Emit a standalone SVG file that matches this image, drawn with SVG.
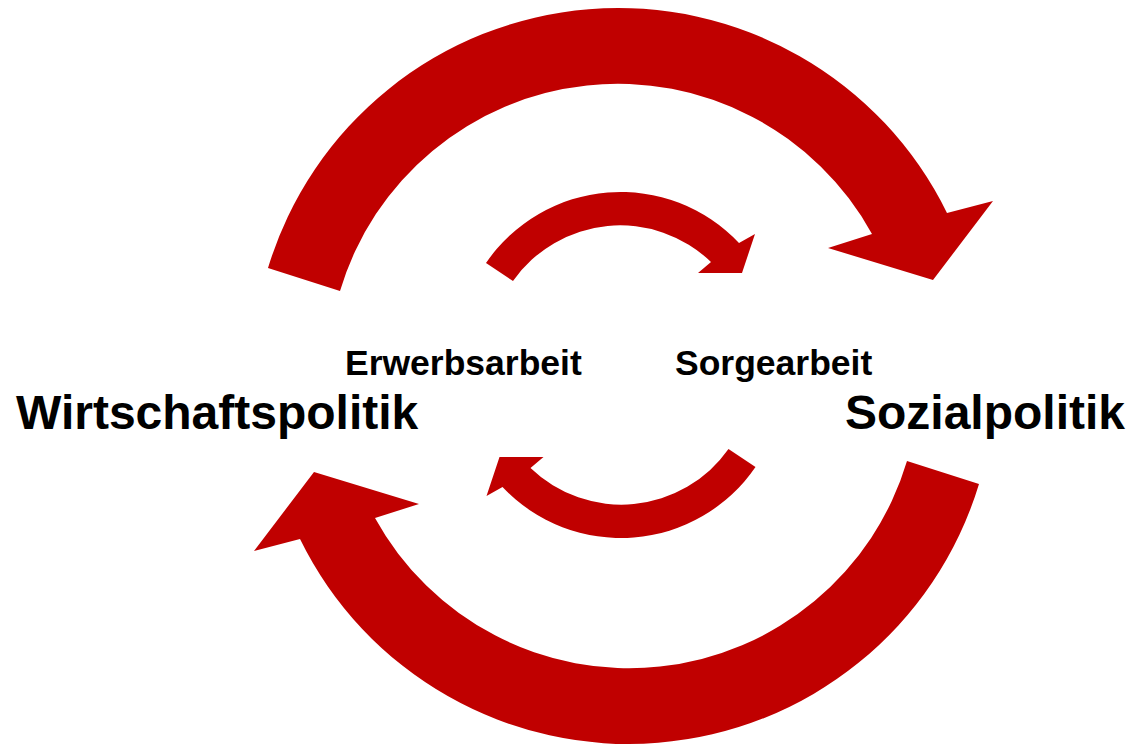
<svg xmlns="http://www.w3.org/2000/svg" width="1133" height="744" viewBox="0 0 1133 744">
  <style>
    .arrow { fill: #C00000; stroke: none; }
    .big { font-family: "Liberation Sans", Arial, sans-serif; font-weight: bold; font-size: 48px; fill: #000000; }
    .small { font-family: "Liberation Sans", Arial, sans-serif; font-weight: bold; font-size: 35.5px; fill: #000000; }
  </style>
  <defs>
    <path id="bigArrow" d="M 268,268 A 366 366 0 0 1 947,213 L 993,201 L 933,280 L 828,248 L 872,234 A 290 290 0 0 0 340,291 Z"/>
    <path id="smallArrow" d="M 486,263 A 163 163 0 0 1 739,243 L 755,234 L 742,273 L 698,273 L 711,262 A 131 131 0 0 0 513,281 Z"/>
  </defs>
  <rect width="1133" height="744" fill="#FFFFFF"/>
  <g id="connectors">
    <use href="#bigArrow" class="arrow"/>
    <use href="#bigArrow" class="arrow" transform="rotate(180 623.5 376)"/>
    <use href="#smallArrow" class="arrow"/>
    <use href="#smallArrow" class="arrow" transform="rotate(180 620.75 365)"/>
  </g>
  <g id="node-wirtschaftspolitik">
    <text class="big" x="16" y="429">Wirtschaftspolitik</text>
  </g>
  <g id="node-sozialpolitik">
    <text class="big" x="845" y="429">Sozialpolitik</text>
  </g>
  <g id="node-erwerbsarbeit">
    <text class="small" x="345" y="375">Erwerbsarbeit</text>
  </g>
  <g id="node-sorgearbeit">
    <text class="small" x="675" y="375">Sorgearbeit</text>
  </g>
</svg>
